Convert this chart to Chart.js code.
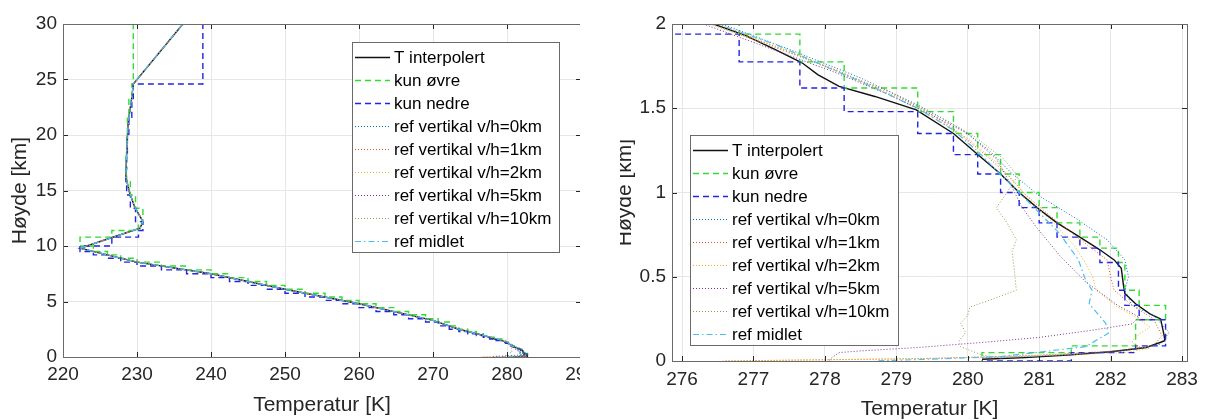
<!DOCTYPE html>
<html lang="no">
<head>
<meta charset="UTF-8">
<title>Temperaturprofil</title>
<script src="https://cdn.jsdelivr.net/npm/chart.js@4"></script>
<style>
  body { margin: 0; background: #fff; width: 1205px; height: 420px; overflow: hidden; position: relative; }
  .pane { position: absolute; top: 0; height: 420px; overflow: hidden; }
  #leftPane { left: 0; width: 580px; }
  #rightPane { left: 620px; width: 585px; }
  #leftPane canvas { position: absolute; left: 0; top: 0; }
  #rightPane canvas { position: absolute; left: -15px; top: 0; }
</style>
</head>
<body>
<div class="pane" id="leftPane"><canvas id="full" width="620" height="420"></canvas></div>
<div class="pane" id="rightPane"><canvas id="zoom" width="600" height="420"></canvas></div>
<script>
// profile above 2 km, shared by all interpolated / reference curves (T [K], h [km])
const upperT = [236.2, 229.5, 229.3, 228.8, 228.6, 228.5, 229.0, 229.7, 230.8, 230.4, 222.3, 230.0, 240.0, 250.0, 260.0, 270.0, 273.5];
const upperH = [30.0, 24.6, 23.4, 21.1, 18.4, 16.2, 14.8, 13.5, 12.2, 11.6, 9.8, 8.55, 7.5, 6.1, 4.8, 3.3, 2.5];

// lowest 2 km for each curve
const interpT = [276.44, 276.9, 277.3, 277.68, 277.9, 278.2, 278.7, 279.28, 279.8, 280.14, 280.46, 280.72, 281.0, 281.25, 281.57, 281.85, 282.05, 282.15, 282.18, 282.2, 282.35, 282.55, 282.7, 282.75, 282.76, 282.5, 282.0, 281.4, 280.8, 280.2];
const interpH = [2.0, 1.93, 1.85, 1.77, 1.7, 1.63, 1.57, 1.49, 1.35, 1.225, 1.11, 1.0, 0.9, 0.82, 0.735, 0.66, 0.6, 0.55, 0.45, 0.4, 0.34, 0.28, 0.25, 0.15, 0.12, 0.08, 0.055, 0.035, 0.02, 0.01];

// pressure levels used by the two step curves
const levelT = [238.9, 229.5, 229.3, 228.9, 228.7, 228.6, 228.5, 228.6, 229.1, 229.8, 230.8, 230.2, 226.6, 222.3,
  224.1, 226.0, 227.8, 230.0, 233.3, 236.7, 240.0, 242.5, 245.0, 247.5, 250.0, 252.7, 255.4, 257.7, 260.0,
  262.3, 264.7, 266.7, 269.0, 270.7, 272.2, 273.5, 274.7, 275.86,
  276.8, 277.65, 278.27, 279.3, 279.8, 280.14, 280.46, 280.72, 281.0, 281.25, 281.57, 281.85, 282.11, 282.2, 282.4, 282.77, 282.35, 281.45, 280.2];
const levelH = [31.0, 24.6, 23.2, 21.6, 20.0, 18.4, 17.0, 15.8, 14.6, 13.4, 12.2, 11.4, 10.8, 10.0,
  9.5, 9.2, 8.9, 8.55, 8.2, 7.85, 7.5, 7.15, 6.8, 6.45, 6.1, 5.75, 5.4, 5.1, 4.8,
  4.45, 4.1, 3.8, 3.45, 3.15, 2.8, 2.5, 2.3, 2.09,
  1.94, 1.775, 1.62, 1.48, 1.35, 1.225, 1.11, 1.0, 0.91, 0.82, 0.735, 0.67, 0.585, 0.42, 0.33, 0.245, 0.09, 0.05, 0.0];

const ref0T = [276.56, 277.5, 278.5, 279.3, 279.9, 280.3, 280.6, 281.0, 281.5, 281.95, 282.2, 282.25, 282.2, 282.3, 282.6, 282.82, 282.7, 282.2, 281.0, 280.2];
const ref0H = [2.0, 1.85, 1.68, 1.52, 1.38, 1.25, 1.12, 0.98, 0.85, 0.72, 0.6, 0.5, 0.42, 0.33, 0.27, 0.17, 0.1, 0.06, 0.03, 0.02];

const ref1T = [276.5, 277.1, 277.7, 278.4, 278.9, 279.35, 279.8, 280.2, 280.55, 280.8, 281.1, 281.4, 281.7, 281.95, 282.0, 282.05, 282.3, 282.6, 282.72, 282.6, 282.1, 281.0, 279.5, 277.5, 276.6];
const ref1H = [2.0, 1.9, 1.8, 1.68, 1.6, 1.5, 1.38, 1.24, 1.11, 0.99, 0.88, 0.78, 0.68, 0.6, 0.5, 0.42, 0.33, 0.25, 0.15, 0.09, 0.06, 0.035, 0.015, 0.005, 0.0];

const ref2T = [276.4, 277.3, 278.2, 279.0, 279.5, 280.0, 280.4, 280.7, 280.95, 281.25, 281.5, 281.65, 281.75, 281.8, 282.1, 282.4, 282.55, 282.4, 282.3, 282.35, 282.55, 282.2, 281.0, 279.0, 276.55];
const ref2H = [2.0, 1.87, 1.72, 1.56, 1.45, 1.32, 1.18, 1.04, 0.92, 0.8, 0.68, 0.58, 0.5, 0.42, 0.32, 0.25, 0.2, 0.16, 0.12, 0.09, 0.075, 0.05, 0.03, 0.012, 0.0];

const ref5T = [276.3, 277.2, 278.1, 278.9, 279.5, 280.0, 280.4, 280.6, 280.75, 280.95, 281.3, 281.65, 282.1, 282.4, 282.3, 281.7, 281.0, 280.2, 279.3, 278.5, 278.2, 278.1, 278.05];
const ref5H = [2.0, 1.86, 1.72, 1.58, 1.46, 1.35, 1.2, 1.05, 0.92, 0.8, 0.62, 0.47, 0.33, 0.26, 0.22, 0.18, 0.14, 0.11, 0.08, 0.06, 0.05, 0.02, 0.0];

const ref10T = [276.4, 277.3, 278.2, 279.0, 279.6, 280.1, 280.5, 280.7, 280.55, 280.4, 280.55, 280.68, 280.62, 280.65, 280.68, 280.3, 280.03, 280.0, 279.9, 279.97, 279.88, 279.9, 280.2, 280.5];
const ref10H = [2.0, 1.86, 1.72, 1.57, 1.45, 1.33, 1.2, 1.1, 1.0, 0.91, 0.82, 0.72, 0.65, 0.55, 0.42, 0.36, 0.32, 0.27, 0.225, 0.17, 0.12, 0.085, 0.035, 0.015];

const midT = [276.5, 277.3, 278.0, 278.7, 279.3, 279.8, 280.15, 280.45, 280.72, 281.0, 281.28, 281.55, 281.65, 281.74, 281.7, 281.93, 281.97, 281.65, 280.44, 279.05, 278.7];
const midH = [2.0, 1.88, 1.75, 1.62, 1.5, 1.37, 1.24, 1.11, 1.0, 0.88, 0.76, 0.6, 0.48, 0.42, 0.34, 0.225, 0.165, 0.085, 0.025, 0.005, 0.0];

const seriesNames = ['T interpolert', 'kun øvre', 'kun nedre', 'ref vertikal v/h=0km', 'ref vertikal v/h=1km',
  'ref vertikal v/h=2km', 'ref vertikal v/h=5km', 'ref vertikal v/h=10km', 'ref midlet'];

const fullXTicks = [220, 230, 240, 250, 260, 270, 280, 290];
const fullYTicks = [0, 5, 10, 15, 20, 25, 30];
const zoomXTicks = [276, 277, 278, 279, 280, 281, 282, 283];
const zoomYTicks = [0, 0.5, 1, 1.5, 2];

const FONT = "'Liberation Sans', Arial, Helvetica, sans-serif";
const INK = '#262626';

function pts(T, H) { return T.map((t, i) => ({ x: t, y: H[i] })); }
function withUpper(T, H) { return pts(upperT.concat(T), upperH.concat(H)); }

function makeDatasets() {
  const dotted = [1, 2];
  const list = [
    { data: withUpper(interpT, interpH), borderColor: '#111111', borderWidth: 1.4, borderDash: [] },
    { data: pts(levelT, levelH), borderColor: '#2fdc2f', borderWidth: 1.4, borderDash: [6, 4], stepped: 'before' },
    { data: pts(levelT, levelH), borderColor: '#2323e6', borderWidth: 1.4, borderDash: [6, 4], stepped: 'after' },
    { data: withUpper(ref0T, ref0H), borderColor: '#0072BD', borderWidth: 1, borderDash: dotted },
    { data: withUpper(ref1T, ref1H), borderColor: '#D95319', borderWidth: 1, borderDash: dotted },
    { data: withUpper(ref2T, ref2H), borderColor: '#EDB120', borderWidth: 1, borderDash: dotted },
    { data: withUpper(ref5T, ref5H), borderColor: '#7E2F8E', borderWidth: 1, borderDash: dotted },
    { data: withUpper(ref10T, ref10H), borderColor: '#9a9a55', borderWidth: 1, borderDash: dotted },
    { data: withUpper(midT, midH), borderColor: '#4DBEEE', borderWidth: 1.2, borderDash: [6, 3, 1.5, 3] }
  ];
  return list.map((d, i) => Object.assign({
    label: seriesNames[i], showLine: true, pointRadius: 0, tension: 0, fill: false, order: 9 - i
  }, d));
}

// box round the axes, inward tick marks and a MATLAB style legend inside the axes
const framePlugin = {
  id: 'frame',
  afterDraw(chart, args, opts) {
    const { ctx, chartArea: a, scales: { x, y } } = chart;
    ctx.save();
    ctx.strokeStyle = INK;
    ctx.lineWidth = 1;
    ctx.beginPath();
    x.ticks.forEach(t => {
      const px = Math.round(x.getPixelForValue(t.value)) + 0.5;
      ctx.moveTo(px, a.bottom); ctx.lineTo(px, a.bottom - 5);
      ctx.moveTo(px, a.top); ctx.lineTo(px, a.top + 5);
    });
    y.ticks.forEach(t => {
      const py = Math.round(y.getPixelForValue(t.value)) + 0.5;
      ctx.moveTo(a.left, py); ctx.lineTo(a.left + 5, py);
      ctx.moveTo(a.right, py); ctx.lineTo(a.right - 5, py);
    });
    ctx.stroke();
    ctx.strokeStyle = '#6a6a6a';
    ctx.strokeRect(Math.round(a.left) + 0.5, Math.round(a.top) + 0.5, Math.round(a.right - a.left), Math.round(a.bottom - a.top));

    // legend
    const L = opts.legend;
    ctx.fillStyle = '#ffffff';
    ctx.fillRect(L.x, L.y, L.w, L.h);
    ctx.strokeStyle = '#6a6a6a';
    ctx.strokeRect(L.x + 0.5, L.y + 0.5, L.w, L.h);
    ctx.font = '17px ' + FONT;
    ctx.textBaseline = 'middle';
    chart.data.datasets.forEach((ds, i) => {
      const ry = L.y + 15 + i * 23;
      ctx.beginPath();
      ctx.strokeStyle = ds.borderColor;
      ctx.lineWidth = ds.borderWidth;
      ctx.setLineDash(ds.borderDash);
      ctx.moveTo(L.x + 3, ry + 0.5);
      ctx.lineTo(L.x + 38, ry + 0.5);
      ctx.stroke();
      ctx.setLineDash([]);
      ctx.fillStyle = '#000000';
      ctx.fillText(ds.label, L.x + 42, ry + 1);
    });
    ctx.restore();
  }
};

function makeScales(xr, yr, xt, yt, yWidth, xHeight, xTitlePad, xTickPad) {
  const tickFont = { family: FONT, size: 19 };
  const titleFont = { family: FONT, size: 21, lineHeight: 1 };
  return {
    x: {
      type: 'linear', min: xr[0], max: xr[1],
      afterBuildTicks: s => { s.ticks = xt.map(v => ({ value: v })); },
      afterFit: s => { s.height = xHeight; },
      grid: { color: '#e6e6e6', drawTicks: false },
      border: { display: false },
      ticks: { font: tickFont, color: INK, padding: xTickPad, maxRotation: 0, autoSkip: false, callback: v => String(v) },
      title: { display: true, text: 'Temperatur [K]', font: titleFont, color: INK, padding: { top: 0, bottom: xTitlePad } }
    },
    y: {
      type: 'linear', min: yr[0], max: yr[1],
      afterBuildTicks: s => { s.ticks = yt.map(v => ({ value: v })); },
      afterFit: s => { s.width = yWidth; },
      grid: { color: '#e6e6e6', drawTicks: false },
      border: { display: false },
      ticks: { font: tickFont, color: INK, padding: 6, autoSkip: false, callback: v => String(v) },
      title: { display: true, text: 'Høyde [km]', font: titleFont, color: INK, padding: { top: 10, bottom: 0 } }
    }
  };
}

new Chart(document.getElementById('full'), {
  type: 'scatter',
  data: { datasets: makeDatasets() },
  options: {
    responsive: false, animation: false, events: [],
    layout: { padding: { top: 24, right: 39, bottom: 0, left: 0 } },
    scales: makeScales([220, 290], [0, 30], fullXTicks, fullYTicks, 63, 63, 4, 6),
    plugins: { legend: { display: false }, tooltip: { enabled: false },
      frame: { legend: { x: 352, y: 42, w: 207, h: 210 } } }
  },
  plugins: [framePlugin]
});

new Chart(document.getElementById('zoom'), {
  type: 'scatter',
  data: { datasets: makeDatasets() },
  options: {
    responsive: false, animation: false, events: [],
    layout: { padding: { top: 24, right: 13, bottom: 0, left: 0 } },
    scales: makeScales([275.86, 283.07], [0, 2], zoomXTicks, zoomYTicks, 67, 59, 0, 7),
    plugins: { legend: { display: false }, tooltip: { enabled: false },
      frame: { legend: { x: 85, y: 135, w: 208, h: 210 } } }
  },
  plugins: [framePlugin]
});
</script>
</body>
</html>
